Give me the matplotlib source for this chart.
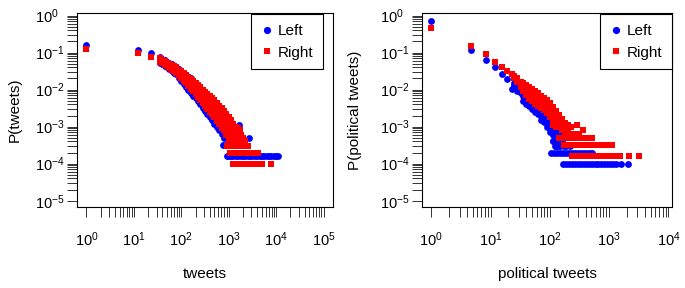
import matplotlib.pyplot as plt
from matplotlib.ticker import FixedLocator, NullFormatter
from matplotlib.lines import Line2D

plt.rcParams['font.family'] = ['Liberation Sans', 'DejaVu Sans']
plt.rcParams['mathtext.fontset'] = 'custom'
plt.rcParams['mathtext.rm'] = 'Liberation Sans'
plt.rcParams['mathtext.it'] = 'Liberation Sans:italic'
plt.rcParams['mathtext.bf'] = 'Liberation Sans:bold'

# ---------------- data ----------------
# x grids used by several strands of points
grid_a = [35, 40, 45, 50, 56, 63, 71, 79, 89, 100, 112]
grid_b = [126, 141, 158, 178, 200, 224, 251, 282, 316, 355, 398, 447,
          501, 562, 631, 708, 794, 891, 1000, 1122]
grid_c = [25, 28, 32, 35, 40, 45, 50, 56, 63, 71, 79, 89, 100, 112,
          126, 141, 158, 178, 200, 224]

# left panel, Right (red)
lr_x = ([1, 12, 23] + grid_a * 3 + grid_b * 5
        + [1259, 1259, 1413, 1413, 1585, 1259, 1413, 1585, 1738, 1259, 1585,
           1259, 1413, 1778, 1259, 1585, 1995, 1000, 1259, 1585, 1995, 2239,
           933, 1122, 1413, 1778, 2239, 2570]
        + [1072, 1259, 1479, 1738, 2042, 2399, 2818, 3311, 3890, 4169]
        + [1230, 1445, 1698, 1995, 2344, 2754, 3236, 3802, 4467, 5012, 7700])
lr_y = ([0.126, 0.100, 0.078]
        + [0.0708, 0.0646, 0.0589, 0.0537, 0.0501, 0.0468, 0.0427, 0.0398, 0.0347, 0.0309, 0.0275]
        + [0.0631, 0.0575, 0.0525, 0.0479, 0.0437, 0.0398, 0.0363, 0.0331, 0.0288, 0.0251, 0.0219]
        + [0.0562, 0.0513, 0.0468, 0.0427, 0.0380, 0.0339, 0.0309, 0.0275, 0.0240, 0.0204, 0.0174]
        + [0.0245, 0.0219, 0.0195, 0.0174, 0.0151, 0.0132, 0.0115, 0.0100, 0.00871, 0.00759,
           0.00661, 0.00589, 0.00513, 0.00437, 0.00372, 0.00316, 0.00263, 0.00224, 0.00186, 0.00155]
        + [0.0216, 0.0191, 0.0168, 0.0148, 0.0127, 0.0110, 0.00944, 0.00813, 0.00700, 0.00603,
           0.00519, 0.00457, 0.00394, 0.00331, 0.00279, 0.00234, 0.00193, 0.00162, 0.00135, 0.00112]
        + [0.0191, 0.0166, 0.0145, 0.0126, 0.0107, 0.00912, 0.00776, 0.00661, 0.00562, 0.00479,
           0.00407, 0.00355, 0.00302, 0.00251, 0.00209, 0.00174, 0.0014, 0.0012, 0.0010, 0.0008]
        + [0.0168, 0.0145, 0.0124, 0.0107, 0.00902, 0.00759, 0.00638, 0.00537, 0.00452, 0.00380,
           0.00320, 0.00275, 0.00232, 0.00191, 0.00157, 0.0013, 0.0010, 0.0009, 0.0007, 0.0006]
        + [0.0148, 0.0126, 0.0107, 0.00912, 0.00759, 0.00631, 0.00525, 0.00437, 0.00363, 0.00302,
           0.00251, 0.00214, 0.00178, 0.00145, 0.0012, 0.0009, 0.0008, 0.0006, 0.0005, 0.0004]
        + [0.0012, 0.0010, 0.0010, 0.0009, 0.0009, 0.0008, 0.0008, 0.0008, 0.0008, 0.0007, 0.0007,
           0.0006, 0.0006, 0.0006, 0.0005, 0.0005, 0.0005, 0.0004, 0.0004, 0.0004, 0.0004, 0.0004,
           0.0003, 0.0003, 0.0003, 0.0003, 0.0003, 0.0003]
        + [0.0002] * 10
        + [0.0001] * 11)

# left panel, Left (blue)
lb_x = ([1, 12, 23] + grid_a + [126, 141, 158] + grid_a + grid_b[:17]
        + grid_a + grid_b[:18]
        + [776, 910, 950, 1000, 1050, 1100, 1260, 1400, 1620, 1800, 2040, 2630]
        + [910, 1000, 1122, 1259, 1413, 1585, 1778, 1995, 2239, 2512, 2818, 3162, 3548,
           3981, 4467, 5012, 5623, 6310, 7079, 7943, 8913, 10000, 11220])
lb_y = ([0.16, 0.12, 0.096]
        + [0.0741, 0.0676, 0.0617, 0.0562, 0.0525, 0.0490, 0.0447, 0.0417, 0.0355, 0.0302,
           0.0263, 0.0251, 0.0224, 0.0200]
        + [0.0631, 0.0575, 0.0525, 0.0479, 0.0437, 0.0398, 0.0363, 0.0331, 0.0272, 0.0224,
           0.0191, 0.0162, 0.0140, 0.0120, 0.0102, 0.00851, 0.00708, 0.00589, 0.00490, 0.00412,
           0.00347, 0.00288, 0.00245, 0.00204, 0.00166, 0.00138, 0.00112, 0.0008]
        + [0.0525, 0.0479, 0.0437, 0.0398, 0.0355, 0.0316, 0.0288, 0.0257, 0.0211, 0.0170,
           0.0140, 0.0117, 0.0100, 0.00832, 0.00692, 0.00603, 0.00490, 0.00398, 0.00320, 0.00263,
           0.00214, 0.00178, 0.00148, 0.00120, 0.00096, 0.0008, 0.00064, 0.00048, 0.00032]
        + [0.00032, 0.00032, 0.00064, 0.00048, 0.0008, 0.00032, 0.00048, 0.00032, 0.00112,
           0.00032, 0.00032, 0.00048]
        + [0.00016] * 23)

# right panel, Right (red)
rr_x = ([1, 4.7, 8.3, 11.9, 15.5, 19.1, 22.7] + grid_c * 3
        + [40, 45, 50, 56, 63, 71, 79, 89, 100, 112, 126, 141, 158] * 2
        + [288, 363, 380, 513]
        + [200, 251, 316]
        + [141, 178, 224, 282, 355, 447]
        + [174, 195, 219, 245, 275, 309, 347, 389, 437, 490, 550, 617, 692, 776, 871, 977, 1096]
        + [240, 269, 302, 339, 380, 427, 479, 537, 603, 676, 759, 851, 955, 1072, 1202, 1349,
           1514, 2180, 3170])
rr_y = ([0.47, 0.15, 0.092, 0.057, 0.042, 0.032, 0.027]
        + [0.0240, 0.0200, 0.0162, 0.0148, 0.0132, 0.0117, 0.0107, 0.00933, 0.00794, 0.00692,
           0.00603, 0.00513, 0.00427, 0.00347, 0.00269, 0.00209, 0.00158, 0.00126, 0.00112, 0.00096]
        + [0.0219, 0.0178, 0.0140, 0.0115, 0.00966, 0.00813, 0.00716, 0.00610, 0.00531, 0.00468,
           0.00407, 0.00351, 0.00275, 0.00197, 0.00168, 0.00144, 0.00112, 0.00096, 0.0008, 0.00064]
        + [0.0200, 0.0158, 0.0120, 0.00891, 0.00708, 0.00562, 0.00479, 0.00398, 0.00355, 0.00316,
           0.00275, 0.00240, 0.00178, 0.00112, 0.00096, 0.00096, 0.0008, 0.00064, 0.00064, 0.00048]
        + [0.0112, 0.0098, 0.0087, 0.0076, 0.0065, 0.0057, 0.0050, 0.00427, 0.00343, 0.00263,
           0.00214, 0.00174, 0.00128]
        + [0.0083, 0.0068, 0.0059, 0.0049, 0.0044, 0.0038, 0.0034, 0.00288, 0.00221, 0.00148,
           0.00132, 0.00112, 0.00096]
        + [0.00112, 0.0008, 0.00048, 0.00048]
        + [0.00064] * 3
        + [0.00048] * 6
        + [0.00032] * 17
        + [0.00016] * 19)

# right panel, Left (blue)
rb_x = ([1, 4.7, 8.3, 11.9, 15.5, 19.1, 22.7] + grid_c[:17] + grid_c[:14] + grid_c[:15]
        + [112, 126, 141, 162]
        + [120, 135, 150, 170, 190, 215]
        + [105, 118, 132, 148, 166, 186, 209, 234, 263, 295, 331, 372, 417, 468, 513]
        + [166, 186, 209, 234, 263, 295, 331, 372, 417, 468, 525, 589, 661, 741, 832, 933,
           1047, 1175, 1318, 1585, 2040])
rb_y = ([0.73, 0.118, 0.063, 0.040, 0.026, 0.019, 0.0103]
        + [0.0151, 0.0126, 0.0105, 0.00871, 0.00724, 0.00575, 0.00479, 0.00398, 0.00331,
           0.00263, 0.00209, 0.0016, 0.0012, 0.0010, 0.0008, 0.0006, 0.0005]
        + [0.0130, 0.0108, 0.00912, 0.00661, 0.00550, 0.00452, 0.00380, 0.00316, 0.00272,
           0.0020, 0.0016, 0.0013, 0.0009, 0.0006]
        + [0.0112, 0.00933, 0.00794, 0.00501, 0.00417, 0.00355, 0.00302, 0.00251, 0.00224,
           0.0015, 0.0013, 0.0010, 0.0007, 0.0004, 0.0003]
        + [0.0004] * 4
        + [0.0003] * 6
        + [0.0002] * 15
        + [0.0001] * 21)

y_exps = [0, -1, -2, -3, -4, -5]
left_x_exps = [0, 1, 2, 3, 4, 5]
right_x_exps = [0, 1, 2, 3, 4]

# ---------------- figure ----------------
fig = plt.figure(figsize=(6.85, 2.88), dpi=100)
axL = fig.add_axes([77 / 685, 81 / 288, 256 / 685, 194 / 288])
axR = fig.add_axes([422 / 685, 81 / 288, 250 / 685, 194 / 288])


def minor_ticks(lo, hi):
    return [m * 10.0 ** k for k in range(lo, hi) for m in range(2, 10)]


def style(ax, x_exps, xlim, xlabel, ylabel, ylab_x):
    ax.set_xscale('log')
    ax.set_yscale('log')
    ax.set_xlim(xlim)
    ax.set_ylim(10 ** -5.17, 10 ** 0.07)
    ax.xaxis.set_major_locator(FixedLocator([10.0 ** e for e in x_exps]))
    ax.xaxis.set_minor_locator(FixedLocator(minor_ticks(x_exps[0], x_exps[-1])))
    ax.set_xticklabels(['$10^{%d}$' % e for e in x_exps])
    ax.yaxis.set_major_locator(FixedLocator([10.0 ** e for e in y_exps]))
    ax.yaxis.set_minor_locator(FixedLocator(minor_ticks(-5, 0)))
    ax.set_yticklabels(['$10^{%d}$' % e for e in y_exps], ha='left')
    ax.xaxis.set_minor_formatter(NullFormatter())
    ax.yaxis.set_minor_formatter(NullFormatter())
    ax.tick_params(which='both', direction='out', length=7, width=0.7, color='#333333',
                   labelsize=10.5)
    ax.tick_params(axis='x', which='both', pad=10)
    ax.tick_params(axis='y', which='both', pad=23)
    for sp in ax.spines.values():
        sp.set_linewidth(0.8)
    ax.set_xlabel(xlabel, fontsize=11, va='center')
    ax.xaxis.set_label_coords(0.5, -0.345)
    ax.set_ylabel(ylabel, fontsize=11, va='center')
    ax.yaxis.set_label_coords(ylab_x, 0.5)


def legend(ax, anchor):
    handles = [Line2D([], [], ls='none', marker='o', color='blue', ms=5.2, mew=0),
               Line2D([], [], ls='none', marker='s', color='red', ms=4.6, mew=0)]
    leg = ax.legend(handles, ['Left', 'Right'], loc='upper right', bbox_to_anchor=anchor,
                    borderaxespad=0, fancybox=False, framealpha=1, edgecolor='black',
                    fontsize=11, handlelength=0.7, handletextpad=0.35, borderpad=0.65,
                    labelspacing=0.5)
    leg.get_frame().set_linewidth(0.8)


for ax, bx, by, rx, ry in [(axL, lb_x, lb_y, lr_x, lr_y), (axR, rb_x, rb_y, rr_x, rr_y)]:
    ax.plot(bx, by, ls='none', marker='o', color='blue', ms=4.9, mew=0)
    ax.plot(rx, ry, ls='none', marker='s', color='red', ms=4.4, mew=0)

style(axL, left_x_exps, (10 ** -0.2, 10 ** 5.2), 'tweets', 'P(tweets)', -0.242)
style(axR, right_x_exps, (10 ** -0.156, 10 ** 4.06), 'political tweets',
      'P(political tweets)', -0.268)
legend(axL, (0.961, 0.995))
legend(axR, (1.0, 0.995))

fig.savefig('out.png', dpi=100)
